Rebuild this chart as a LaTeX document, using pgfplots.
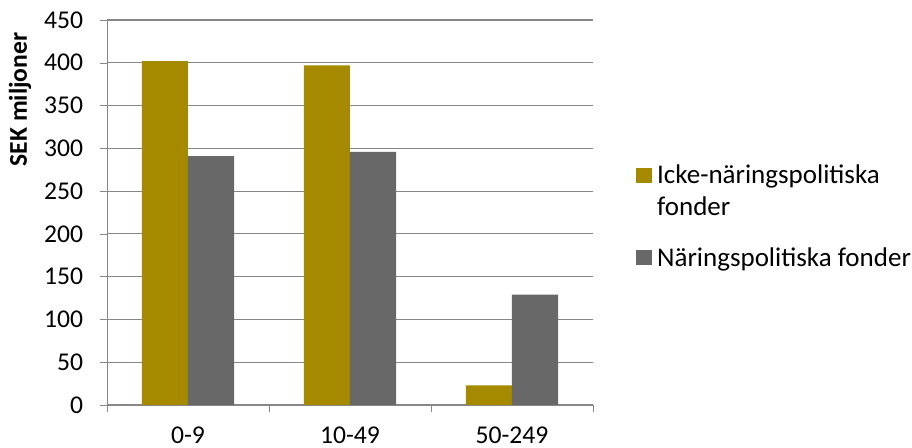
\documentclass[border=0pt]{standalone}
\usepackage{fontspec}
\setmainfont{Carlito}
\usepackage{pgfplots}
\pgfplotsset{compat=1.18}
\definecolor{gold}{HTML}{A58A00}
\definecolor{darkgr}{HTML}{686868}
\definecolor{gridc}{HTML}{878787}
\begin{document}
\fontsize{12.8}{15.5}\selectfont
\begin{tikzpicture}
\path[use as bounding box] (0,0) rectangle (456pt,224pt);
\begin{axis}[
  at={(53.5pt,21.5pt)}, anchor=south west,
  scale only axis, width=243pt, height=192.5pt,
  ybar=0pt, bar width=0.284,
  xmin=-0.5, xmax=2.5, ymin=0, ymax=450,
  ytick={0,50,...,450},
  xtick={0,1,2}, xticklabels={0-9,10-49,50-249},
  minor xtick={-0.5,0.5,1.5,2.5},
  axis x line*=bottom, axis y line*=left,
  axis line style={gridc,-},
  ymajorgrids, grid style={gridc, line width=0.6pt},
  tick align=outside,
  major tick length=3.5pt, minor tick length=3.5pt,
  major x tick style={draw=none},
  minor x tick style={gridc},
  major y tick style={gridc},
  /pgf/number format/assume math mode=true,
  tick label style={font=\fontsize{12.8}{15.5}\selectfont, text=black},
  yticklabel style={xshift=-4pt},
  xticklabel style={yshift=-3pt},
  legend style={at={(1.088,0.625)}, anchor=north west, draw=none, fill=none,
    inner sep=0pt, row sep=30pt,
    nodes={inner sep=0pt, anchor=base west},
    font=\fontsize{13.5}{16}\selectfont},
  legend cell align=left,
  legend image code/.code={\fill[#1,draw=none] (0pt,0.5pt) rectangle (8pt,8pt);},
]
\addplot[fill=gold, draw=none] coordinates {(0,402) (1,397) (2,23)};
\addplot[fill=darkgr, draw=none] coordinates {(0,291) (1,296) (2,129)};
\legend{{\hspace{2.5pt}\parbox[t]{130pt}{Icke-näringspolitiska\\fonder}},{\hspace{2.5pt}Näringspolitiska fonder}}
\end{axis}
\node[rotate=90, font=\fontsize{12.8}{15.5}\selectfont\bfseries] at (10pt,174.25pt) {SEK miljoner};
\end{tikzpicture}
\end{document}
